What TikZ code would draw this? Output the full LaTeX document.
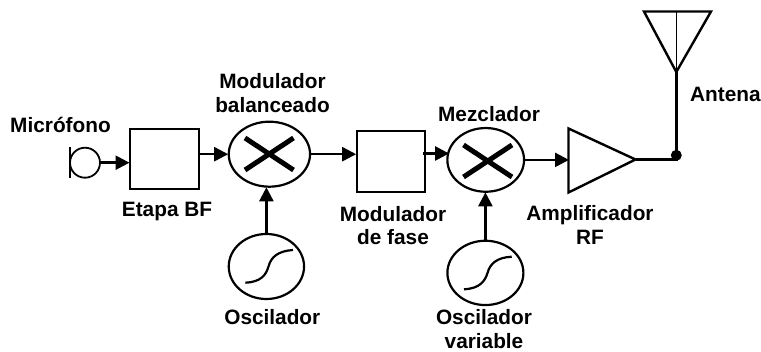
\documentclass[tikz,border=0pt]{standalone}
\usepackage{fontspec}
\setmainfont{Liberation Sans}
\usetikzlibrary{arrows.meta,shapes.geometric}
\tikzset{
  wire/.style={line width=2.4pt},
  arr/.style={line width=2.4pt,-{Triangle[length=14pt,width=14pt]},shorten >=-0.5pt},
  blockbox/.style={draw,line width=2pt,inner sep=0pt},
  oval/.style={draw,ellipse,line width=2.2pt,inner sep=0pt},
  cross/.style={line width=5pt},
  wave/.style={line width=2.2pt},
  lab/.style={font=\fontsize{20.8}{23.5}\selectfont\bfseries,align=center,inner sep=0pt},
}
\begin{document}
\begin{tikzpicture}[x=1pt,y=-1pt]
\useasboundingbox (0,0) rectangle (761,352);
% microphone
\node[circle,draw,line width=1.8pt,minimum size=30pt,inner sep=0pt] (mic) at (85,162.7) {};
\coordinate (micA) at (70,147);
\coordinate (micB) at (70,178);
\draw[line width=1.8pt] (micA) -- (micB);
% blocks
\node[blockbox,minimum width=69pt,minimum height=60.6pt] (bf) at (164.5,159) {};
\node[blockbox,minimum width=68.3pt,minimum height=60.7pt] (fase) at (390.8,161.6) {};
\node[oval,minimum width=81.3pt,minimum height=65pt] (mod) at (269.4,154.2) {};
\node[oval,minimum width=76.7pt,minimum height=63.7pt] (mix) at (485.7,159.9) {};
\node[oval,minimum width=75.3pt,minimum height=65pt] (osc) at (266.4,266.5) {};
\node[oval,minimum width=76pt,minimum height=64.3pt] (var) at (485.4,272.9) {};
% crosses
\draw[cross] (245,170) -- (293.5,138);
\draw[cross] (245,138) -- (293.5,170);
\draw[cross] (463.5,177) -- (512,145);
\draw[cross] (463.5,145) -- (512,177);
% wave shapes
\draw[wave] (245.3,282.7) .. controls (261,282) and (266,275) .. (268.5,266.5) .. controls (271,257) and (278,251) .. (293,250);
\draw[wave] (464,289.3) .. controls (480,288.5) and (485,281) .. (487.5,273) .. controls (490,263.5) and (497,257.5) .. (511.7,256.7);
% amplifier
\coordinate (ampA) at (568.5,128.5);
\coordinate (ampB) at (568.5,192.5);
\coordinate (ampO) at (635.5,159.5);
\draw[line width=2.4pt,line join=miter] (ampA) -- (ampO) -- (ampB) -- cycle;
% antenna
\coordinate (antL) at (644,11.5);
\coordinate (antR) at (711,11.5);
\coordinate (antB) at (676.3,72);
\draw[line width=2.4pt,line join=miter] (antL) -- (antR) -- (antB) -- cycle;
\node[circle,fill=black,minimum size=11pt,inner sep=0pt] (dot) at (676.3,155.3) {};
\draw[line width=1.6pt] (antB) -- (antB |- antL);
% connectors
\draw[arr] (mic.east) -- (bf.west |- mic.east);
\draw[arr] (bf.east |- mod.west) -- (mod.west);
\draw[arr] (mod.east) -- (fase.west |- mod.east);
\coordinate (mixin) at (448.6,153.5);
\draw[arr] (423,153.5) -- (mixin);
\draw[arr] (mix.east) -- (ampA |- mix.east);
\draw[arr] (osc.north) -- (osc.north |- mod.south);
\draw[arr] (var.north) -- (var.north |- mix.south);
\draw[wire] (ampO) -- (dot.center |- ampO) -- (dot.center);
\draw[wire] (dot.center) -- (antB);
% labels
\node[lab] (tmic) at (60.5,125) {Micrófono};
\node[lab] (tbf) at (167,211.5) {Etapa BF};
\node[lab] (tmod) at (272.5,93) {Modulador\\balanceado};
\node[lab] (tosc) at (272.3,317) {Oscilador};
\node[lab] (tfase) at (393,225.5) {Modulador\\de fase};
\node[lab] (tmix) at (489,114) {Mezclador};
\node[lab] (tamp) at (590,225) {Amplificador\\RF};
\node[lab] (tvar) at (484,329) {Oscilador\\variable};
\node[lab,anchor=west] (tant) at (690,94) {Antena};
\end{tikzpicture}
\end{document}
